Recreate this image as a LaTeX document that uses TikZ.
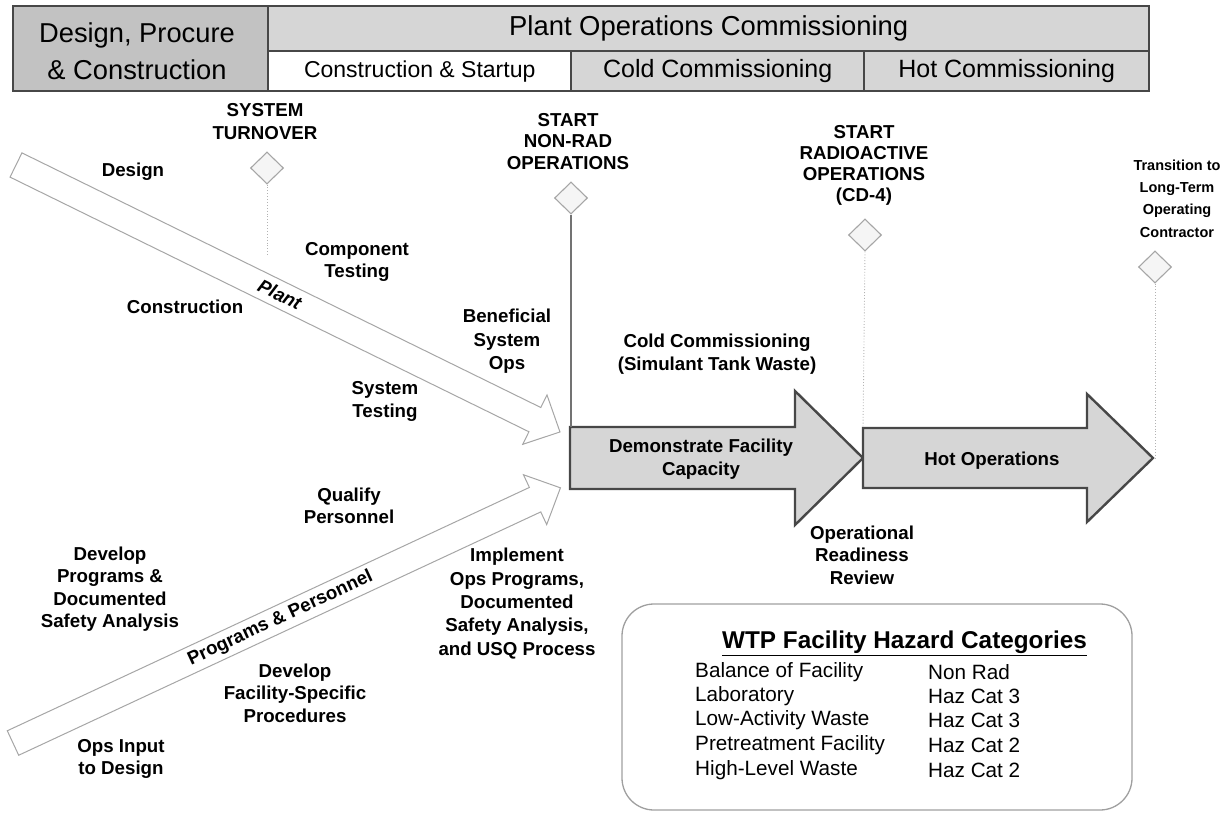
\documentclass[tikz,border=0pt]{standalone}
\usepackage{fontspec}
\setmainfont{Liberation Sans}
\usetikzlibrary{shapes.geometric}
\definecolor{cellgray}{gray}{0.84}
\definecolor{dpcgray}{gray}{0.76}
\definecolor{arrgray}{gray}{0.84}
\definecolor{edgegray}{gray}{0.28}
\begin{document}
\begin{tikzpicture}[x=1pt,y=-1pt,
  cell/.style={draw=edgegray, line width=2.4pt, anchor=north west, inner sep=0pt, align=center},
  lbl/.style={font=\bfseries\fontsize{18.7}{22.5}\selectfont, align=center, inner sep=0pt},
  ms/.style={diamond, draw=gray!70, line width=1.1pt, fill=gray!8, minimum width=33pt, minimum height=32pt, inner sep=0pt},
  dotln/.style={draw=gray!60, dotted, line width=0.9pt},
  hollow/.style={draw=gray!70, line width=1pt, fill=white},
  bigarrow/.style={draw=edgegray, line width=2.4pt, fill=arrgray},
  row/.style={font=\fontsize{20.7}{24}\selectfont, anchor=west, inner sep=0pt}
]
\useasboundingbox (0,0) rectangle (1225,813);

% ---------- header ----------
\node[cell, fill=dpcgray, minimum width=255pt, minimum height=85pt] (dpc) at (12,5) {};
\node[inner sep=0pt, align=center, font=\fontsize{27.3}{37}\selectfont] (dpctext) at (137,51) {Design, Procure\\\& Construction};
\node[cell, fill=cellgray, minimum width=881pt, minimum height=45pt,
      font=\fontsize{27.4}{30}\selectfont] (poc) at (267,5) {Plant Operations Commissioning};
\node[cell, fill=white, minimum width=303pt, minimum height=40pt,
      font=\fontsize{23}{26}\selectfont] (cs) at (267,50) {Construction \& Startup};
\node[cell, fill=cellgray, minimum width=293pt, minimum height=40pt,
      font=\fontsize{25}{28}\selectfont] (cold) at (570,50) {Cold Commissioning};
\node[cell, fill=cellgray, minimum width=285pt, minimum height=40pt,
      font=\fontsize{25}{28}\selectfont] (hot) at (863,50) {Hot Commissioning};

% ---------- hollow arrows ----------
\begin{scope}[shift={(16,165)}, rotate=-26.14]
  \draw[hollow] (0,-13.5) -- (578,-13.5) -- (578,-27.5) -- (606,0) -- (578,27.5) -- (578,13.5) -- (0,13.5) -- cycle;
  \node[lbl, transform shape] (plantlbl) at (294,0) {\itshape Plant};
\end{scope}
\begin{scope}[shift={(13,743)}, rotate=24.99]
  \draw[hollow] (0,-13.5) -- (576,-13.5) -- (576,-27.5) -- (604,0) -- (576,27.5) -- (576,13.5) -- (0,13.5) -- cycle;
  \node[lbl, transform shape] (pplbl) at (295,0) {Programs \& Personnel};
\end{scope}

% ---------- big arrows ----------
\draw[bigarrow] (570,427) -- (795,427) -- (795,391) -- (863,458) -- (795,525) -- (795,489) -- (570,489) -- cycle;
\node[lbl] (demo) at (701,459) {Demonstrate Facility\\Capacity};
\draw[bigarrow] (863,428) -- (1087,428) -- (1087,394) -- (1153,458) -- (1087,522) -- (1087,488) -- (863,488) -- cycle;
\node[lbl] (hotops) at (992,461) {Hot Operations};

% ---------- milestones ----------
\node[lbl] (stt) at (265,121.5) {SYSTEM\\TURNOVER};
\node[ms] (stdia) at (267,168) {};
\coordinate (stend) at (267,257);
\draw[dotln] (stdia.south) -- (stend);

\node[lbl, font=\bfseries\fontsize{18.7}{21.5}\selectfont] (nrt) at (568,141.5) {START\\NON-RAD\\OPERATIONS};
\node[ms] (nrdia) at (571,198) {};
\coordinate (demoTL) at (571,427);
\draw[draw=black!55, line width=2.6pt] (nrdia.south) -- (demoTL);

\node[lbl, font=\bfseries\fontsize{18.7}{21}\selectfont] (rat) at (864,165.5) {START\\RADIOACTIVE\\OPERATIONS\\(CD-4)};
\node[ms] (radia) at (865,235) {};
\coordinate (hotTL) at (863,428);
\draw[dotln] (radia.south) -- (hotTL);

\node[lbl, font=\bfseries\fontsize{14.5}{22.3}\selectfont] (trt) at (1177,198.5) {Transition to\\Long-Term\\Operating\\Contractor};
\node[ms] (trdia) at (1155,267) {};
\coordinate (hotTip) at (1155,458);
\draw[dotln] (trdia.south) -- (hotTip);

% ---------- activity labels ----------
\node[lbl] (design) at (133,172) {Design};
\node[lbl] (constr) at (185,307) {Construction};
\node[lbl] (comptest) at (357,262) {Component\\Testing};
\node[lbl, font=\bfseries\fontsize{18.7}{23.5}\selectfont] (benef) at (507,341.5) {Beneficial\\System\\Ops};
\node[lbl] (systest) at (385,401.5) {System\\Testing};
\node[lbl] (qualify) at (349,506) {Qualify\\Personnel};
\node[lbl] (devprog) at (110,589) {Develop\\Programs \&\\Documented\\Safety Analysis};
\node[lbl] (devproc) at (295,693) {Develop\\Facility-Specific\\Procedures};
\node[lbl] (opsin) at (121,759) {Ops Input\\to Design};
\node[lbl, font=\bfseries\fontsize{18.7}{23.3}\selectfont] (implement) at (517,603.5) {Implement\\Ops Programs,\\Documented\\Safety Analysis,\\and USQ Process};
\node[lbl] (coldc) at (717,354) {Cold Commissioning\\(Simulant Tank Waste)};
\node[lbl] (orr) at (862,555) {Operational\\Readiness\\Review};

% ---------- hazard box ----------
\draw[draw=gray!75, line width=1.3pt, rounded corners=32pt] (622,604) rectangle (1132,810);
\node[font=\bfseries\fontsize{24.3}{26}\selectfont, inner sep=0pt, anchor=west] (haztitle) at (722,643) {\underline{WTP Facility Hazard Categories}};
\node[row] (r1a) at (695,672) {Balance of Facility};
\node[row] (r1b) at (928,672) {Non Rad};
\node[row] (r2a) at (695,696) {Laboratory};
\node[row] (r2b) at (928,696) {Haz Cat 3};
\node[row] (r3a) at (695,720.5) {Low-Activity Waste};
\node[row] (r3b) at (928,720.5) {Haz Cat 3};
\node[row] (r4a) at (695,745) {Pretreatment Facility};
\node[row] (r4b) at (928,745) {Haz Cat 2};
\node[row] (r5a) at (695,770) {High-Level Waste};
\node[row] (r5b) at (928,770) {Haz Cat 2};
\end{tikzpicture}
\end{document}
